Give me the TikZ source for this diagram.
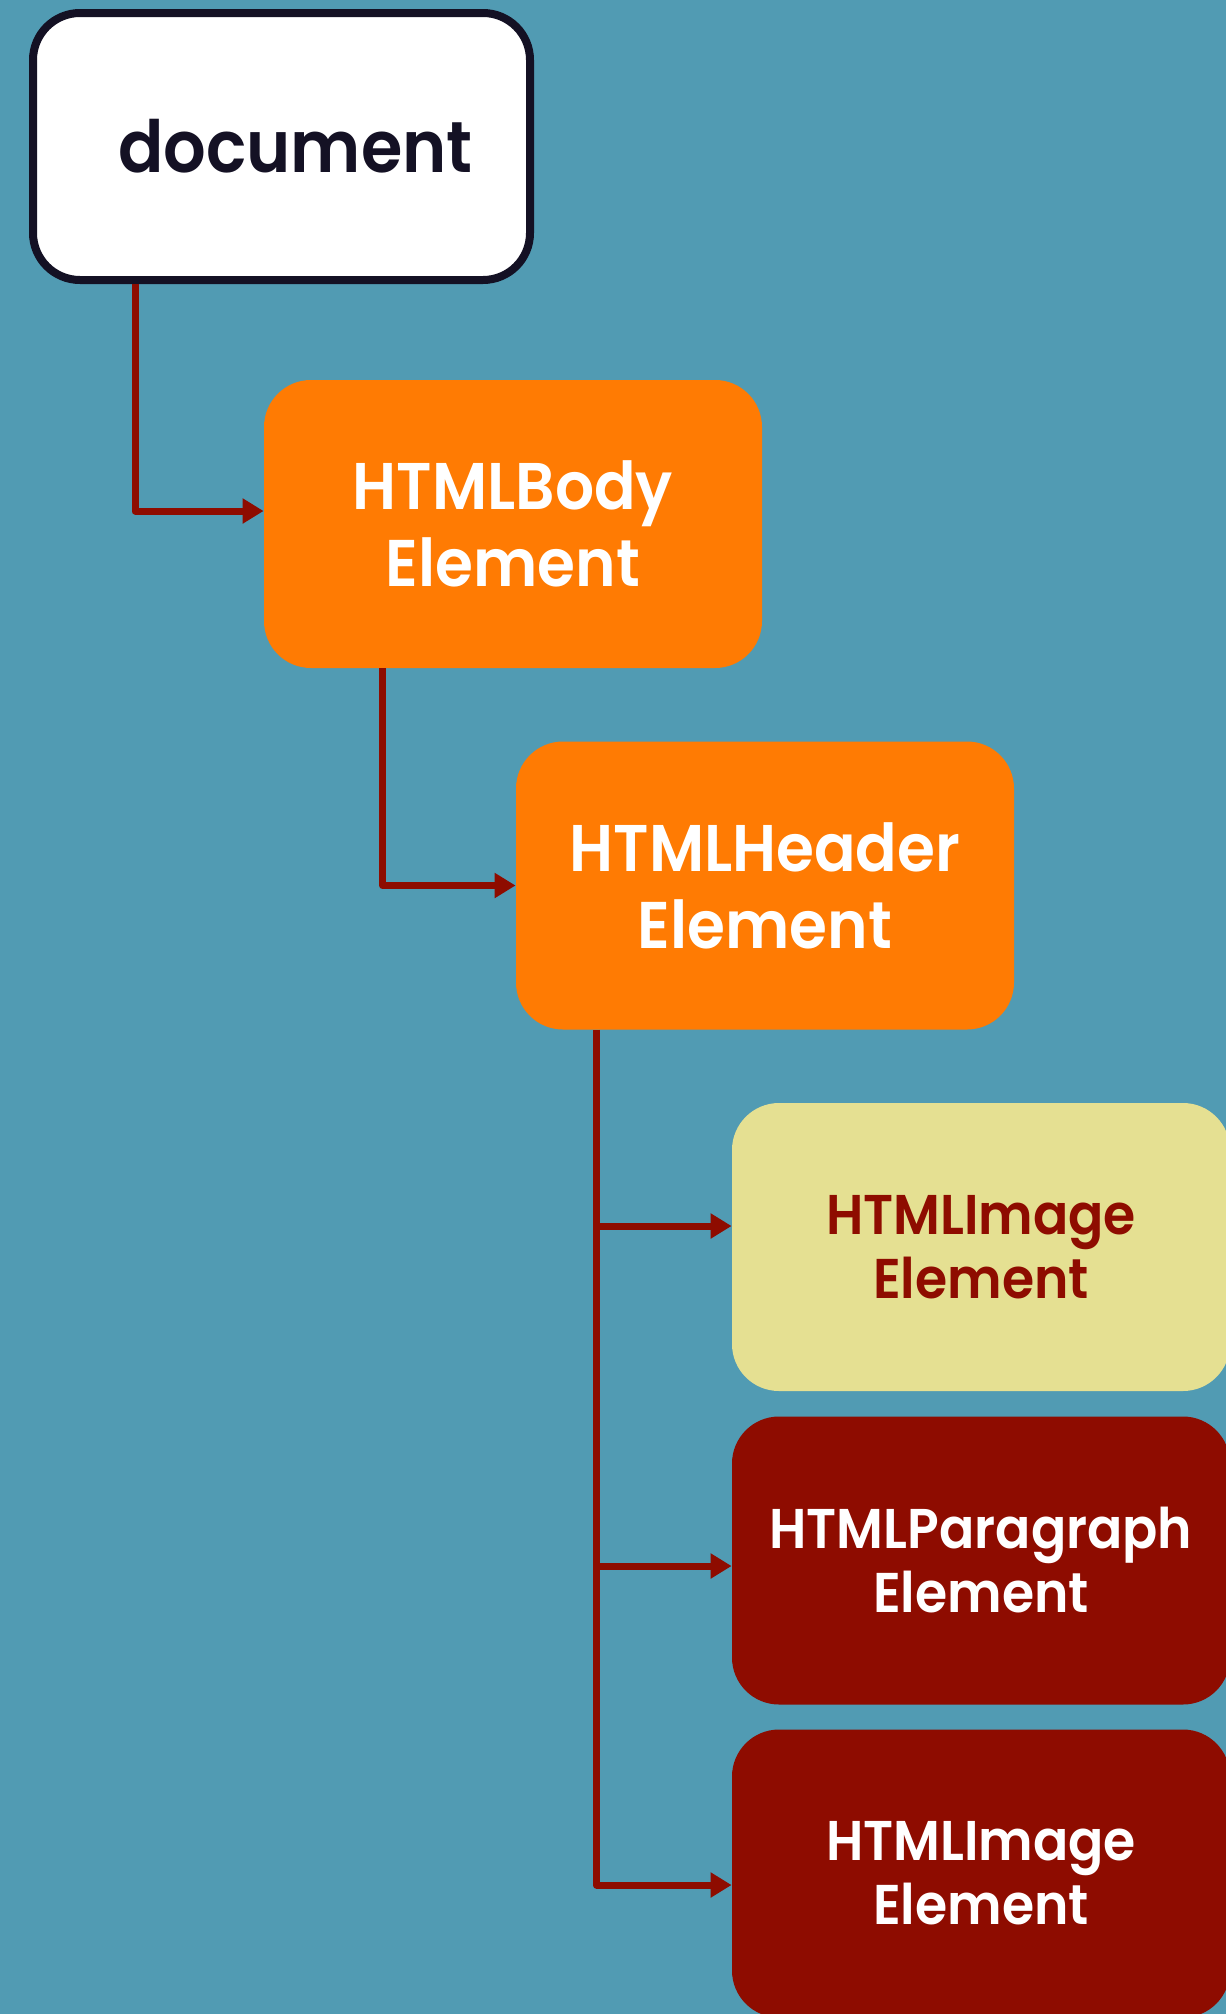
\documentclass[tikz,border=0pt]{standalone}
\usepackage{fontspec}
\setmainfont{Poppins}[BoldFont={* SemiBold}, FakeStretch=0.93]
\usetikzlibrary{arrows.meta}

\definecolor{bgteal}{RGB}{81,155,179}
\definecolor{boxorange}{RGB}{255,123,3}
\definecolor{boxyellow}{RGB}{229,224,146}
\definecolor{boxred}{RGB}{142,12,0}
\definecolor{inkdark}{RGB}{20,17,36}

\tikzset{
  elem/.style={rounded corners=23.5pt, minimum width=249pt, minimum height=144pt,
    inner sep=0pt, align=center, font=\bfseries\fontsize{28}{32}\selectfont},
  docbox/.style={elem, draw=inkdark, line width=4pt, fill=white, text=inkdark,
    minimum width=248.5pt, minimum height=133.5pt, font=\bfseries\fontsize{36}{40}\selectfont},
  orangebox/.style={elem, fill=boxorange, text=white, font=\bfseries\fontsize{33}{38.5}\selectfont},
  yellowbox/.style={elem, fill=boxyellow, text=boxred},
  redbox/.style={elem, fill=boxred, text=white},
  wire/.style={draw=boxred, line width=3.5pt, line join=round,
    -{Triangle[length=10.5pt,width=12pt]}}
}

\begin{document}
\begin{tikzpicture}[x=0.5pt,y=-0.5pt]
			%%%%% background %%%%%
			\fill[bgteal] (0,0) rectangle (1226,2014);
			\useasboundingbox (0,0) rectangle (1226,2014);
			
			%%%%% boxes %%%%%
			\node[docbox] (doc) at (281.5,146.5) {\hspace*{14pt}document};
			\node[orangebox] (body) at (513,524) {HTMLBody\\Element};
			\node[orangebox] (header) at (765,885.5) {HTMLHeader\\Element};
			\node[yellowbox] (img1) at (981,1247) {HTMLImage\\Element};
			\node[redbox] (para) at (981,1560.5) {HTMLParagraph\\Element};
			\node[redbox] (img2) at (981,1873.5) {HTMLImage\\Element};
			
			%%%%% connectors %%%%%
			\draw[wire] ([xshift=53pt]doc.south west) |- ([yshift=6.5pt]body.west);
			\draw[wire] ([xshift=59.5pt]body.south west) |- (header.west);
			
			\coordinate (trunk) at ([xshift=40.5pt]header.south west);
			\coordinate (b1) at ([yshift=10.5pt]img1.west);
			\coordinate (b2) at ([yshift=-2.75pt]para.west);
			\coordinate (b3) at ([yshift=-5.75pt]img2.west);
			\draw[wire] (trunk) |- (b3);
			\draw[wire] (trunk |- b1) -- (b1);
			\draw[wire] (trunk |- b2) -- (b2);
			
\end{tikzpicture}
\end{document}
